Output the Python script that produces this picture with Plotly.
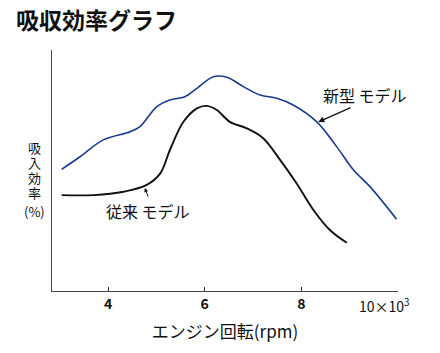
import plotly.graph_objects as go

# Data (x in 10^3 rpm, y as relative efficiency %)
new_x = [3.04, 3.42, 3.90, 4.46, 4.66, 5.01, 5.28, 5.59, 5.84, 6.18, 6.46, 6.80, 7.15, 7.49, 7.83, 8.32, 8.73, 9.08, 9.42, 9.97]
new_y = [50.5, 55.7, 62.7, 66.1, 68.2, 76.5, 79.3, 80.6, 84.1, 88.9, 88.7, 84.8, 81.3, 80.0, 77.2, 70.2, 59.9, 50.2, 43.3, 29.8]

old_x = [3.04, 3.70, 4.32, 4.80, 5.08, 5.28, 5.56, 5.84, 6.04, 6.25, 6.52, 6.87, 7.21, 7.56, 7.90, 8.25, 8.59, 8.94]
old_y = [39.8, 39.8, 41.2, 44.0, 48.8, 58.5, 70.2, 75.8, 76.8, 75.1, 70.2, 67.5, 63.4, 54.4, 44.7, 33.6, 25.3, 20.0]

tick_vals = [4, 6, 8]
tick_text = ["<b>4</b>", "<b>6</b>", "<b>8</b>"]
ylabel_chars = ["吸", "入", "効", "率", "(%)"]

FONT = "Noto Sans CJK JP"
W, H = 346, 241  # plot area pixels

fig = go.Figure()
fig.add_trace(go.Scatter(x=new_x, y=new_y, mode="lines",
                         line=dict(color="#1b3a8c", width=1.6, shape="spline", smoothing=1.0),
                         showlegend=False, hoverinfo="skip"))
fig.add_trace(go.Scatter(x=old_x, y=old_y, mode="lines",
                         line=dict(color="#111111", width=1.9, shape="spline", smoothing=1.0),
                         showlegend=False, hoverinfo="skip"))

fig.update_layout(
    width=440, height=353,
    margin=dict(l=52, r=42, t=50, b=62),
    paper_bgcolor="white", plot_bgcolor="white",
    font=dict(family=FONT, color="#111111"),
    xaxis=dict(range=[2.84, 10.0], tickvals=tick_vals + [10], ticktext=tick_text + [""],
               ticks="inside", ticklen=4, tickcolor="#333", showgrid=False, zeroline=False,
               showline=True, linecolor="#444", linewidth=1.2,
               tickfont=dict(size=14, family=FONT, color="#111"),
               title=dict(text="エンジン回転(rpm)", font=dict(size=17, family=FONT, color="#111"), standoff=14)),
    yaxis=dict(range=[0, 100], showticklabels=False, ticks="", showgrid=False, zeroline=False,
               showline=True, linecolor="#444", linewidth=1.2),
)

ann = [
    dict(text="<b>吸収効率グラフ</b>", xref="paper", yref="paper", x=(14-52)/W, y=(291-19)/H,
         xanchor="left", yanchor="middle", showarrow=False, font=dict(size=23, family=FONT, color="#111")),
    dict(text="新型 モデル", x=9.32, y=(291-95)/241*100, xanchor="center", yanchor="middle", showarrow=False,
         font=dict(size=16, family=FONT, color="#111")),
    dict(text="従来 モデル", x=4.82, y=(291-211)/241*100, xanchor="center", yanchor="middle", showarrow=False,
         font=dict(size=16, family=FONT, color="#111")),
    dict(text="10×10<sup>3</sup>", x=9.73, y=0, yshift=-14, xanchor="center", yanchor="middle", showarrow=False,
         font=dict(size=14, family=FONT, color="#111")),
]
for ch, py in zip(ylabel_chars, [147, 162, 177, 192, 211]):
    ann.append(dict(text=ch, xref="paper", yref="paper", x=(34-52)/W, y=(291-py)/H,
                    xanchor="center", yanchor="middle", showarrow=False, borderpad=0,
                    font=dict(size=13, family=FONT, color="#111")))
fig.update_layout(annotations=ann)

# arrows
fig.add_annotation(x=8.35, y=(291-122)/241*100, ax=9.05, ay=(291-107)/241*100, axref="x", ayref="y",
                   text="", showarrow=True, arrowhead=2, arrowsize=1, arrowwidth=1.2, arrowcolor="#111")
fig.add_annotation(x=4.76, y=(291-188)/241*100, ax=4.84, ay=(291-198)/241*100, axref="x", ayref="y",
                   text="", showarrow=True, arrowhead=2, arrowsize=0.8, arrowwidth=1, arrowcolor="#111")

fig.write_html("out.html")
